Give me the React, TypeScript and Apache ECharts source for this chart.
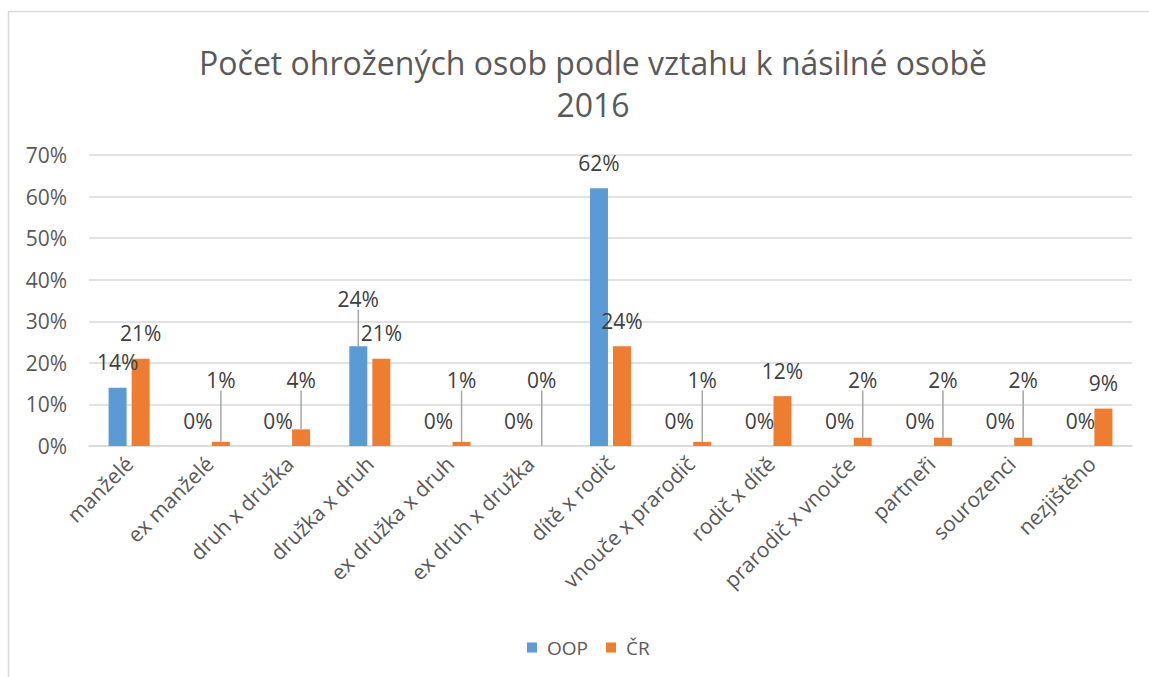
import React, { useEffect, useRef } from 'react';
import * as echarts from 'echarts';

const titleText = 'Počet ohrožených osob podle vztahu k násilné osobě\n2016';
const categories = [
  'manželé',
  'ex manželé',
  'druh x družka',
  'družka x druh',
  'ex družka x druh',
  'ex druh x družka',
  'dítě x rodič',
  'vnouče x prarodič',
  'rodič x dítě',
  'prarodič x vnouče',
  'partneři',
  'sourozenci',
  'nezjištěno',
];
const seriesNames = ['OOP', 'ČR'];
const oopValues = [0.14, 0, 0, 0.24, 0, 0, 0.62, 0, 0, 0, 0, 0, 0];
const crValues = [0.21, 0.01, 0.04, 0.21, 0.01, 0, 0.24, 0.01, 0.12, 0.02, 0.02, 0.02, 0.09];
const yMin = 0;
const yMax = 0.7;
const yStep = 0.1;

const FONT = 'Open Sans';
const pct = (v: number) => Math.round(v * 100) + '%';

// rules deciding which data labels are lifted with a leader line
const oopLifted = (i: number) => {
  const b = oopValues[i];
  const c = crValues[i];
  return b > 0 && b >= c && b - c < 0.05;
};
const crLifted = (i: number) => crValues[i] < 0.05;

export default function App() {
  const ref = useRef<HTMLDivElement>(null);
  useEffect(() => {
    if (!ref.current) return;
    const chart = echarts.init(ref.current, null, { renderer: 'svg' });
    const labelCommon = {
      show: true,
      position: 'top',
      distance: 15,
      fontSize: 21,
      color: '#404040',
      fontFamily: FONT,
      formatter: (p: any) => pct(p.value),
    };
    const lineStyle = { color: '#a6a6a6', width: 1.5 };
    const oopData = oopValues.map((v, i) => ({
      value: v,
      labelLine: { show: oopLifted(i), lineStyle },
    }));
    const crData = crValues.map((v, i) => ({
      value: v,
      labelLine: { show: crLifted(i), lineStyle },
    }));
    chart.setOption({
      animation: false,
      textStyle: { fontFamily: FONT },
      title: {
        text: titleText,
        left: 588,
        top: 36,
        textAlign: 'center',
        textStyle: {
          fontSize: 32,
          fontWeight: 'normal',
          color: '#595959',
          fontFamily: FONT,
          lineHeight: 42,
        },
      },
      legend: {
        data: seriesNames,
        left: 522,
        top: 633,
        itemWidth: 10,
        itemHeight: 10,
        itemGap: 18,
        icon: 'rect',
        textStyle: { fontSize: 19, color: '#595959', fontFamily: FONT, padding: [0, 0, 0, 5] },
      },
      grid: { left: 89, right: 17, top: 155, bottom: 231, containLabel: false },
      xAxis: {
        type: 'category',
        data: categories,
        axisLine: { lineStyle: { color: '#d9d9d9', width: 1.5 } },
        axisTick: { show: false },
        axisLabel: {
          interval: 0,
          rotate: 45,
          margin: 14,
          fontSize: 21,
          color: '#595959',
          fontFamily: FONT,
        },
      },
      yAxis: {
        type: 'value',
        min: yMin,
        max: yMax,
        interval: yStep,
        axisLine: { show: false },
        axisTick: { show: false },
        splitLine: { lineStyle: { color: '#d9d9d9', width: 1.5 } },
        axisLabel: {
          margin: 22,
          fontSize: 21,
          color: '#595959',
          fontFamily: FONT,
          formatter: (v: number) => pct(v),
        },
      },
      series: [
        {
          name: seriesNames[0],
          type: 'bar',
          data: oopData,
          barWidth: 18,
          barGap: '28%',
          itemStyle: { color: '#5b9bd5' },
          label: labelCommon,
          labelLayout: (p: any) => {
            const r = p.rect;
            if (oopLifted(p.dataIndex)) {
              return { x: r.x + r.width / 2, y: r.y - 47, align: 'center', verticalAlign: 'middle' };
            }
            return {};
          },
        },
        {
          name: seriesNames[1],
          type: 'bar',
          data: crData,
          barWidth: 18,
          itemStyle: { color: '#ed7d31' },
          label: labelCommon,
          labelLayout: (p: any) => {
            if (!crLifted(p.dataIndex)) return {};
            const r = p.rect;
            const base = r.y + r.height;
            return { x: r.x + r.width / 2, y: base - 66, align: 'center', verticalAlign: 'middle' };
          },
        },
      ],
      graphic: [
        { type: 'line', shape: { x1: 8, y1: 11.5, x2: 1149, y2: 11.5 }, style: { stroke: '#d9d9d9', lineWidth: 1.5 }, silent: true },
        { type: 'line', shape: { x1: 8.5, y1: 11, x2: 8.5, y2: 677 }, style: { stroke: '#d9d9d9', lineWidth: 1.5 }, silent: true },
      ],
    });
    return () => chart.dispose();
  }, []);
  return <div ref={ref} style={{ position: 'absolute', left: 0, top: 0, width: 1149, height: 677, background: '#fff' }} />;
}
